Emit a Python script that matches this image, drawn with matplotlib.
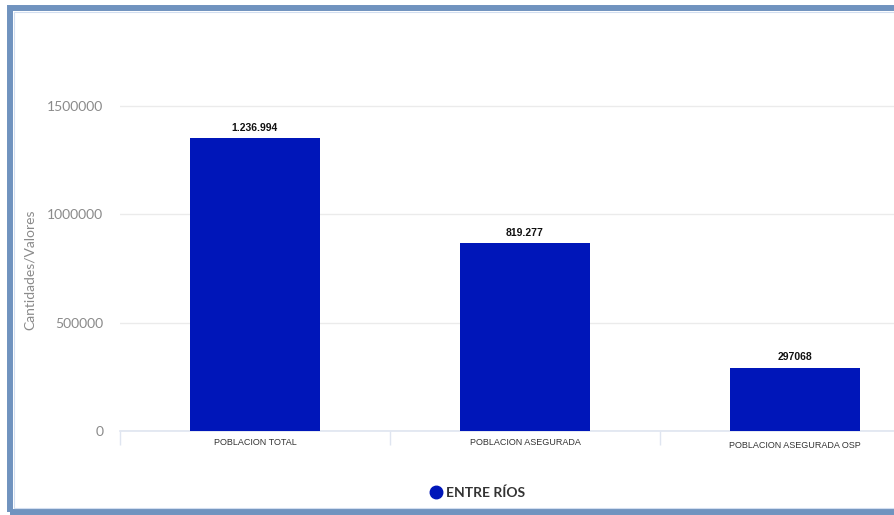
import matplotlib
matplotlib.use("Agg")
import matplotlib.pyplot as plt
from matplotlib.patches import Rectangle
from matplotlib.lines import Line2D

# datos
categorias = ["POBLACION TOTAL", "POBLACION ASEGURADA", "POBLACION ASEGURADA OSP"]
valores = [1352000, 866000, 292000]
etiquetas = ["1.236.994", "819.277", "297068"]
serie = "ENTRE RÍOS"
yticks = [0, 500000, 1000000, 1500000]

W, H = 895, 515
azul = "#0016b9"

fig = plt.figure(figsize=(W / 100, H / 100), dpi=100)
fig.patch.set_facecolor("white")

# marco exterior
fig.patches.append(Rectangle((10 / W, 1 - 512 / H), (905 - 10) / W, (512 - 8) / H,
                             transform=fig.transFigure, fill=False,
                             edgecolor="#7093bf", linewidth=4.3, zorder=0))
fig.patches.append(Rectangle((14 / W, 1 - 508 / H), (900 - 14) / W, (508 - 12) / H,
                             transform=fig.transFigure, fill=False,
                             edgecolor="#d2def0", linewidth=0.8, zorder=0))

ax = fig.add_axes([120 / W, (H - 431) / H, 1 - 120 / W, (431 - 95) / H])
x = list(range(len(categorias)))
ax.bar(x, valores, width=130 / 270, color=azul, zorder=3)

for xi, v, lab in zip(x, valores, etiquetas):
    ax.annotate(lab, (xi, v), xytext=(0, 4), textcoords="offset points",
                ha="center", va="bottom", fontsize=7.5, fontweight="bold",
                family="Liberation Sans", color="#111111")

ax.set_xlim(-0.5, -0.5 + 775 / 270)
ax.set_ylim(0, 1500000 * (431 - 95) / 325)
ax.set_yticks(yticks)
ax.set_yticklabels([str(t) for t in yticks], fontsize=10, family="Lato", color="#8a8a8a")
ax.tick_params(axis="y", length=0, pad=12)

ax.set_xticks(x)
ax.set_xticklabels(categorias, fontsize=6.5, family="Liberation Sans", color="#333333")
ax.tick_params(axis="x", which="major", length=0, pad=5)
ax.set_xticks([-0.5, 0.5, 1.5], minor=True)
ax.tick_params(axis="x", which="minor", length=10, width=1, color="#dfe5f0", direction="out")
for i, t in enumerate(ax.get_xticklabels()):
    if i == 2:
        t.set_y(-0.008)

ax.grid(axis="y", color="#ebebeb", linewidth=1, zorder=0)
for s in ["top", "right", "left"]:
    ax.spines[s].set_visible(False)
ax.spines["bottom"].set_color("#dfe5f0")
ax.spines["bottom"].set_linewidth(1.2)

ax.set_ylabel("Cantidades/Valores", fontsize=10, family="Lato", color="#8a8a8a")
ax.yaxis.set_label_coords(-(120 - 36) / (W - 120), (431 - 270) / (431 - 95))

handle = Line2D([], [], marker="o", linestyle="", markersize=9,
                markerfacecolor=azul, markeredgecolor=azul)
leg = fig.legend([handle], [serie], loc="center", bbox_to_anchor=(477 / W, 1 - 493 / H),
                 frameon=False, handletextpad=0.2, handlelength=1.0,
                 prop={"family": "Lato", "weight": "bold", "size": 10})
leg.get_texts()[0].set_color("#333333")

fig.savefig("out.png", dpi=100)
